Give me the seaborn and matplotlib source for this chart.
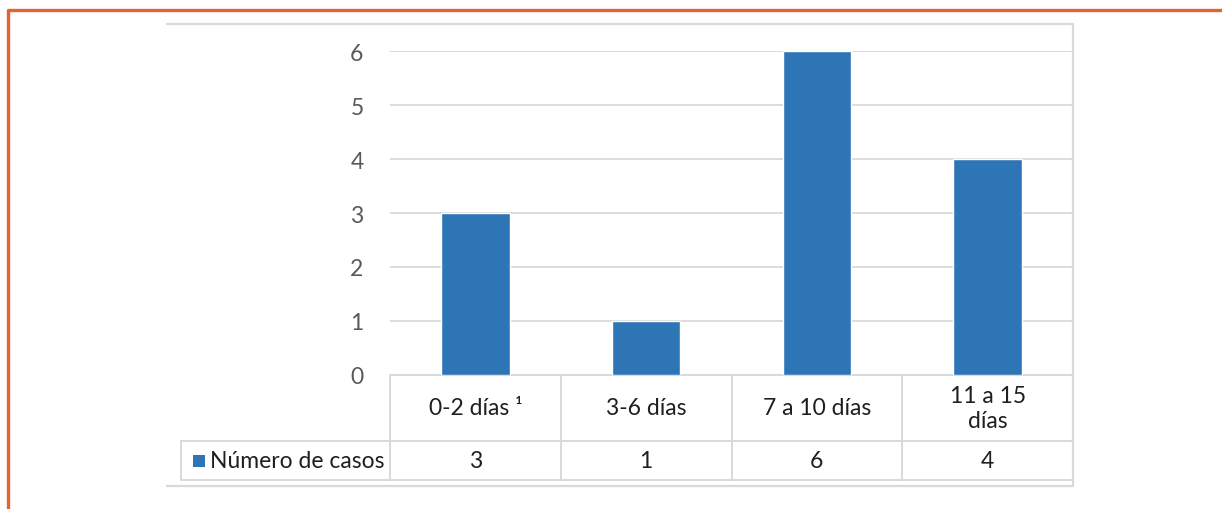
import matplotlib
matplotlib.use("Agg")
import matplotlib.pyplot as plt
import seaborn as sns
import pandas as pd
from matplotlib.lines import Line2D
from matplotlib.patches import Rectangle

# -------------------------
# Data
# -------------------------
categories = ['0-2 días ¹', '3-6 días', '7 a 10 días', '11 a 15\ndías']
casos = [3, 1, 6, 4]
series_name = 'Número de casos'
y_ticks = [0, 1, 2, 3, 4, 5, 6]

df = pd.DataFrame({'cat': categories, 'casos': casos})

bar_color = '#2E75B6'
grid_color = '#D9D9D9'
tick_color = '#595959'
text_color = '#1F1F1F'
orange = '#E8622E'

sns.set_theme(style='white')
plt.rcParams['font.family'] = ['Lato', 'DejaVu Sans']

W, H = 1222, 510
fig = plt.figure(figsize=(W / 100, H / 100), dpi=100)

# axes placed in pixel terms of the reference
ax_l, ax_r, ax_t, ax_b = 390, 1073, 52, 376
ax = fig.add_axes([ax_l / W, 1 - ax_b / H, (ax_r - ax_l) / W, (ax_b - ax_t) / H])

sns.barplot(data=df, x='cat', y='casos', color=bar_color, width=0.4,
            saturation=1, ax=ax, zorder=3)
ax.set_xlim(-0.5, len(categories) - 0.5)
ax.set_ylim(0, 6)
ax.set_yticks(y_ticks)
ax.yaxis.grid(True, color=grid_color, linewidth=1.3, zorder=0)
ax.set_axisbelow(True)
for s in ax.spines.values():
    s.set_visible(False)
ax.set_xticks([])
ax.set_xlabel('')
ax.set_ylabel('')
ax.tick_params(axis='y', length=0, pad=19, labelsize=16.5, labelcolor=tick_color)

# -------------------------
# Data table below the axes
# -------------------------
ah = ax_b - ax_t
row1 = -(442 - ax_b) / ah   # bottom of header row
row2 = -(481 - ax_b) / ah   # bottom of value row
leg_x = (181 - ax_l) / (ax_r - ax_l)  # legend column left edge (axes fraction)

tr_data = ax.get_xaxis_transform()
tr_axes = ax.transAxes
lkw = dict(color=grid_color, linewidth=1.4, clip_on=False)

# horizontal lines
ax.add_line(Line2D([0, 1], [0, 0], transform=tr_axes, **lkw))
ax.add_line(Line2D([leg_x, 1], [row1, row1], transform=tr_axes, **lkw))
ax.add_line(Line2D([leg_x, 1], [row2, row2], transform=tr_axes, **lkw))
# vertical lines
for xb in [i - 0.5 for i in range(len(categories) + 1)]:
    ax.add_line(Line2D([xb, xb], [0, row2], transform=tr_data, **lkw))
ax.add_line(Line2D([leg_x, leg_x], [row1, row2], transform=tr_axes, **lkw))

for i, (c, v) in enumerate(zip(categories, casos)):
    ax.text(i, row1 / 2, c, transform=tr_data, ha='center', va='center',
            fontsize=16.5, color=text_color, linespacing=1.2)
    ax.text(i, (row1 + row2) / 2, str(v), transform=tr_data, ha='center',
            va='center', fontsize=16.5, color=text_color)

# legend key inside the table
key_x = (193 - ax_l) / (ax_r - ax_l)
key_w = 12 / (ax_r - ax_l)
key_h = 12 / ah
ymid = (row1 + row2) / 2
ax.add_patch(Rectangle((key_x, ymid - key_h / 2), key_w, key_h, transform=tr_axes,
                       facecolor=bar_color, edgecolor='none', clip_on=False))
ax.text(key_x + key_w + 5 / (ax_r - ax_l), ymid, series_name, transform=tr_axes,
        ha='left', va='center', fontsize=16.5, color=text_color)

# -------------------------
# Chart frame and orange page border
# -------------------------
def fline(xs, ys, color, lw):
    fig.add_artist(Line2D([x / W for x in xs], [1 - y / H for y in ys],
                          transform=fig.transFigure, color=color, linewidth=lw,
                          solid_capstyle='butt'))

fline([166, 1073, 1073, 166], [25, 25, 487, 487], grid_color, 1.6)
fline([8, 8, W], [H, 11, 11], orange, 2.4)

fig.savefig('out.png', dpi=100)
